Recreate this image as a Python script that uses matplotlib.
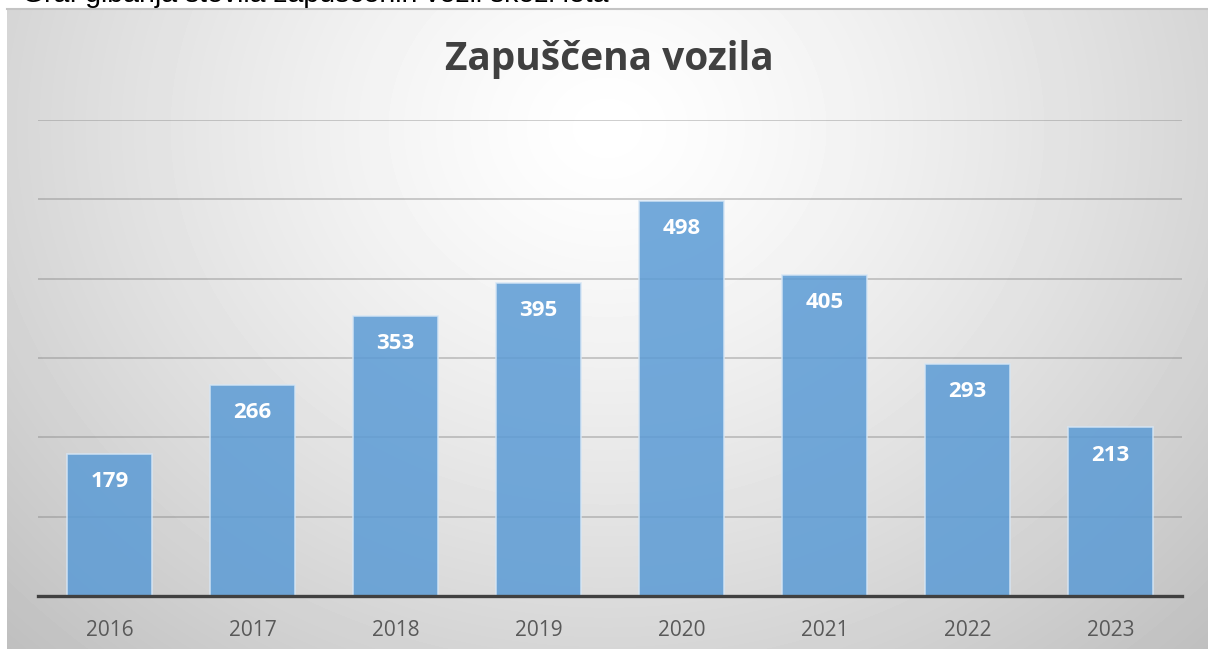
"""Bar chart of abandoned vehicles per year."""

import numpy as np
from matplotlib import pyplot as plt

years = ['2016', '2017', '2018', '2019', '2020', '2021', '2022', '2023']
vehicles = [179, 266, 353, 395, 498, 405, 293, 213]
title = 'Zapuščena vozila'
caption = 'Graf gibanja števila zapuščenih vozil skozi leta'

W, H = 1208, 649
fig = plt.figure(figsize=(W / 100, H / 100), dpi=100)

# radial grey background of the chart area
bg = fig.add_axes([7 / W, 0, (W - 7) / W, (H - 8) / H], zorder=0)
gx, gy = np.meshgrid(np.arange(W - 7), np.arange(H - 8))
r = np.sqrt(((gx - 600) / 720) ** 2 + ((gy - 120) / 620) ** 2)
shade = 1 - 0.27 * np.clip(r, 0, 1.25) ** 1.3 / 1.25 ** 1.3
bg.imshow(shade, cmap='gray', vmin=0, vmax=1, aspect='auto',
          interpolation='bilinear')
bg.axis('off')
fig.add_artist(plt.Line2D([7 / W, 1], [1 - 8.5 / H, 1 - 8.5 / H],
                          color='#c4c4c4', lw=1.5))

# caption above the chart, cut off by the top edge as in the screenshot
fig.text(22 / W, 1 - 2.5 / H, caption, fontsize=20.5, family='Liberation Sans',
         color='black', va='baseline', ha='left')

ax = fig.add_axes([38 / W, 53 / H, 1144 / W, 476 / H], zorder=1)
ax.patch.set_alpha(0)
x = np.arange(len(years))
bars = ax.bar(x, vehicles, width=0.6, color='#5b9bd5', alpha=0.85,
              edgecolor='#d6e6f5', linewidth=1.2, zorder=2)
for xi, v in zip(x, vehicles):
    ax.annotate(str(v), (xi, v), xytext=(0, -28), textcoords='offset pixels',
                ha='center', va='center', color='white', fontsize=16,
                fontweight='bold', family='Open Sans', zorder=3)

ax.set_xlim(-0.5, len(years) - 0.5)
ax.set_ylim(0, 600)
ax.set_yticks(range(100, 601, 100))
ax.yaxis.grid(True, color='#808080', alpha=0.45, lw=1.2)
ax.set_axisbelow(True)
ax.tick_params(axis='y', left=False, labelleft=False)
ax.set_xticks(x)
ax.set_xticklabels(years, fontsize=15, color='#595959', family='Open Sans')
ax.tick_params(axis='x', length=0, pad=17)
for s in ['top', 'right', 'left']:
    ax.spines[s].set_visible(False)
ax.spines['bottom'].set_color('#404040')
ax.spines['bottom'].set_linewidth(2.4)
ax.spines['bottom'].set_zorder(4)

fig.text(609 / W, 1 - 70 / H, title, fontsize=28, fontweight='bold',
         family='Open Sans', color='#404040', ha='center', va='baseline')

fig.savefig('out.png', dpi=100)
